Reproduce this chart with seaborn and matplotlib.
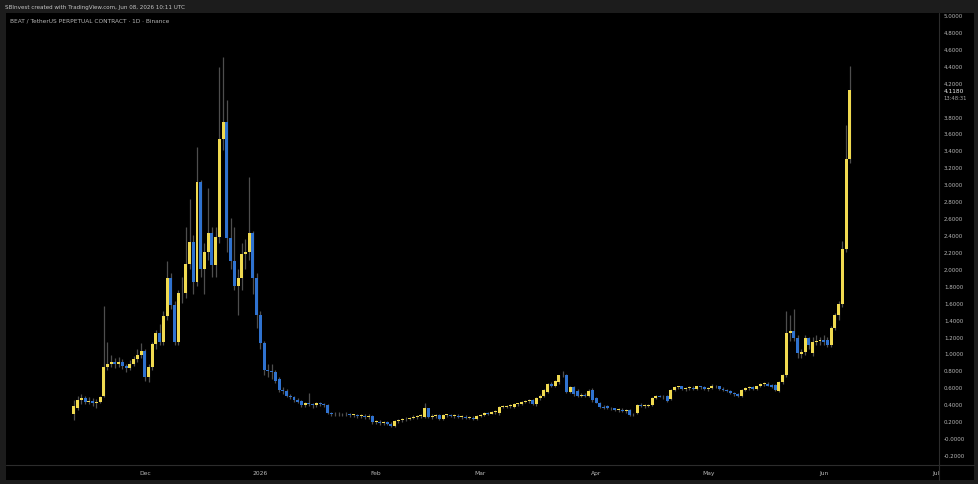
import numpy as np
import pandas as pd
import matplotlib
matplotlib.use("Agg")
import matplotlib.pyplot as plt
import matplotlib.dates as mdates
from matplotlib.patches import Rectangle
from matplotlib.lines import Line2D
from matplotlib.transforms import Bbox, TransformedBbox
import seaborn as sns

# ---------------- data (daily candles) ----------------
start_date = "2025-11-12"

opens = [
    0.28, 0.36, 0.45, 0.47, 0.43, 0.44, 0.42, 0.43, 0.50, 0.84,
    0.88, 0.90, 0.87, 0.90, 0.85, 0.83, 0.88, 0.93, 0.98, 1.03,
    0.72, 0.84, 1.11, 1.24, 1.14, 1.44, 1.89, 1.57, 1.14, 1.71,
    1.72, 2.06, 2.32, 1.85, 3.03, 2.00, 2.20, 2.42, 2.04, 2.38,
    3.54, 3.74, 2.36, 2.09, 1.80, 1.89, 2.18, 2.20, 2.42, 1.89,
    1.45, 1.12, 0.80, 0.79, 0.78, 0.70, 0.57, 0.56, 0.50, 0.48,
    0.45, 0.44, 0.39, 0.41, 0.40, 0.39, 0.41, 0.40, 0.39, 0.30,
    0.28, 0.29, 0.28, 0.29, 0.28, 0.27, 0.27, 0.26, 0.26, 0.25,
    0.26, 0.19, 0.19, 0.18, 0.19, 0.17, 0.14, 0.20, 0.21, 0.22,
    0.23, 0.24, 0.25, 0.26, 0.25, 0.35, 0.25, 0.26, 0.27, 0.22,
    0.27, 0.27, 0.26, 0.26, 0.25, 0.25, 0.24, 0.24, 0.22, 0.26,
    0.27, 0.30, 0.29, 0.31, 0.30, 0.37, 0.37, 0.38, 0.37, 0.40,
    0.40, 0.43, 0.44, 0.45, 0.40, 0.47, 0.50, 0.55, 0.64, 0.62,
    0.66, 0.74, 0.74, 0.55, 0.60, 0.56, 0.50, 0.51, 0.50, 0.57,
    0.47, 0.41, 0.37, 0.38, 0.35, 0.35, 0.33, 0.33, 0.32, 0.33,
    0.28, 0.30, 0.39, 0.38, 0.38, 0.39, 0.47, 0.50, 0.49, 0.50,
    0.46, 0.57, 0.60, 0.61, 0.58, 0.59, 0.59, 0.58, 0.61, 0.60,
    0.58, 0.59, 0.62, 0.61, 0.58, 0.57, 0.56, 0.53, 0.52, 0.50,
    0.57, 0.59, 0.60, 0.58, 0.61, 0.64, 0.64, 0.63, 0.63, 0.56,
    0.66, 0.74, 1.24, 1.26, 1.18, 0.99, 1.02, 1.18, 1.00, 1.14,
    1.15, 1.16, 1.16, 1.10, 1.30, 1.45, 1.59, 2.24, 3.30,
]
highs = [
    0.45, 0.50, 0.52, 0.50, 0.48, 0.47, 0.46, 0.50, 1.56, 1.14,
    0.98, 0.95, 0.96, 0.93, 0.88, 0.92, 0.97, 1.05, 1.12, 1.05,
    0.88, 1.13, 1.28, 1.35, 1.50, 2.09, 1.95, 1.62, 1.75, 1.90,
    2.50, 2.83, 2.40, 3.44, 3.05, 2.30, 2.95, 2.50, 2.50, 4.39,
    4.50, 4.00, 2.60, 2.50, 2.00, 2.30, 2.35, 3.09, 2.45, 1.95,
    1.50, 1.15, 0.88, 0.88, 0.80, 0.72, 0.60, 0.58, 0.52, 0.50,
    0.47, 0.45, 0.43, 0.53, 0.42, 0.43, 0.43, 0.42, 0.40, 0.31,
    0.31, 0.31, 0.30, 0.31, 0.30, 0.29, 0.29, 0.28, 0.28, 0.28,
    0.27, 0.21, 0.21, 0.20, 0.20, 0.19, 0.21, 0.22, 0.24, 0.25,
    0.25, 0.27, 0.27, 0.28, 0.41, 0.36, 0.28, 0.28, 0.28, 0.28,
    0.29, 0.29, 0.28, 0.28, 0.27, 0.27, 0.26, 0.26, 0.27, 0.28,
    0.31, 0.31, 0.32, 0.33, 0.38, 0.39, 0.39, 0.40, 0.41, 0.42,
    0.44, 0.45, 0.46, 0.46, 0.49, 0.52, 0.58, 0.65, 0.66, 0.69,
    0.75, 0.79, 0.76, 0.62, 0.62, 0.58, 0.53, 0.53, 0.58, 0.59,
    0.48, 0.43, 0.39, 0.39, 0.37, 0.36, 0.35, 0.35, 0.34, 0.34,
    0.30, 0.40, 0.41, 0.40, 0.40, 0.48, 0.51, 0.51, 0.51, 0.51,
    0.58, 0.62, 0.62, 0.62, 0.60, 0.61, 0.61, 0.62, 0.62, 0.61,
    0.60, 0.64, 0.63, 0.62, 0.60, 0.58, 0.57, 0.55, 0.53, 0.58,
    0.60, 0.61, 0.61, 0.62, 0.65, 0.66, 0.66, 0.64, 0.64, 0.67,
    0.76, 1.50, 1.45, 1.53, 1.22, 1.05, 1.22, 1.20, 1.20, 1.22,
    1.20, 1.22, 1.20, 1.33, 1.48, 1.62, 2.33, 3.70, 4.40,
]
lows = [
    0.21, 0.33, 0.40, 0.40, 0.40, 0.38, 0.36, 0.41, 0.48, 0.80,
    0.84, 0.83, 0.84, 0.82, 0.78, 0.80, 0.85, 0.90, 0.95, 0.68,
    0.66, 0.80, 1.05, 1.10, 1.10, 1.40, 1.52, 1.10, 1.10, 1.60,
    1.65, 2.00, 1.70, 1.80, 1.90, 1.70, 2.10, 1.90, 1.90, 2.30,
    3.40, 2.20, 2.00, 1.75, 1.45, 1.75, 2.00, 2.10, 1.70, 1.30,
    1.05, 0.75, 0.72, 0.70, 0.65, 0.55, 0.52, 0.48, 0.46, 0.43,
    0.41, 0.37, 0.37, 0.38, 0.36, 0.37, 0.38, 0.37, 0.28, 0.26,
    0.26, 0.26, 0.26, 0.26, 0.25, 0.25, 0.24, 0.24, 0.23, 0.23,
    0.17, 0.17, 0.16, 0.16, 0.15, 0.13, 0.13, 0.18, 0.19, 0.20,
    0.21, 0.22, 0.23, 0.24, 0.24, 0.24, 0.23, 0.24, 0.21, 0.21,
    0.25, 0.25, 0.24, 0.24, 0.23, 0.23, 0.22, 0.21, 0.21, 0.25,
    0.26, 0.27, 0.28, 0.29, 0.27, 0.35, 0.36, 0.36, 0.36, 0.38,
    0.39, 0.41, 0.42, 0.39, 0.38, 0.45, 0.48, 0.53, 0.60, 0.60,
    0.64, 0.72, 0.53, 0.53, 0.50, 0.48, 0.48, 0.48, 0.49, 0.43,
    0.41, 0.36, 0.34, 0.34, 0.33, 0.32, 0.31, 0.31, 0.30, 0.26,
    0.26, 0.29, 0.37, 0.36, 0.37, 0.38, 0.46, 0.48, 0.46, 0.43,
    0.45, 0.56, 0.58, 0.57, 0.56, 0.57, 0.57, 0.57, 0.58, 0.57,
    0.56, 0.58, 0.59, 0.57, 0.56, 0.54, 0.52, 0.50, 0.49, 0.49,
    0.56, 0.57, 0.57, 0.57, 0.60, 0.62, 0.61, 0.59, 0.56, 0.55,
    0.64, 0.72, 1.15, 1.15, 0.95, 0.95, 0.98, 1.05, 0.97, 1.10,
    1.10, 1.10, 1.08, 1.08, 1.28, 1.40, 1.55, 2.20, 3.25,
]
closes = [
    0.38, 0.45, 0.47, 0.43, 0.44, 0.42, 0.43, 0.48, 0.84, 0.88,
    0.90, 0.87, 0.90, 0.85, 0.83, 0.88, 0.93, 0.98, 1.03, 0.72,
    0.84, 1.11, 1.24, 1.14, 1.44, 1.89, 1.57, 1.14, 1.71, 1.72,
    2.06, 2.32, 1.85, 3.03, 2.00, 2.20, 2.42, 2.04, 2.38, 3.54,
    3.74, 2.36, 2.09, 1.80, 1.89, 2.18, 2.20, 2.42, 1.89, 1.45,
    1.12, 0.80, 0.79, 0.78, 0.68, 0.57, 0.56, 0.50, 0.48, 0.45,
    0.43, 0.39, 0.41, 0.40, 0.39, 0.41, 0.40, 0.39, 0.30, 0.28,
    0.29, 0.28, 0.29, 0.28, 0.27, 0.27, 0.26, 0.26, 0.25, 0.26,
    0.19, 0.19, 0.18, 0.19, 0.17, 0.14, 0.20, 0.21, 0.22, 0.23,
    0.24, 0.25, 0.26, 0.26, 0.35, 0.25, 0.26, 0.26, 0.22, 0.27,
    0.27, 0.26, 0.26, 0.25, 0.25, 0.24, 0.24, 0.23, 0.26, 0.27,
    0.30, 0.29, 0.31, 0.32, 0.37, 0.37, 0.38, 0.39, 0.40, 0.41,
    0.43, 0.44, 0.45, 0.40, 0.47, 0.50, 0.57, 0.64, 0.62, 0.68,
    0.74, 0.75, 0.55, 0.60, 0.52, 0.50, 0.51, 0.50, 0.56, 0.45,
    0.42, 0.37, 0.36, 0.35, 0.35, 0.33, 0.33, 0.32, 0.32, 0.27,
    0.29, 0.39, 0.38, 0.38, 0.39, 0.47, 0.50, 0.49, 0.48, 0.44,
    0.57, 0.60, 0.60, 0.58, 0.59, 0.59, 0.58, 0.61, 0.60, 0.58,
    0.59, 0.62, 0.61, 0.58, 0.57, 0.56, 0.53, 0.52, 0.50, 0.57,
    0.59, 0.60, 0.58, 0.61, 0.64, 0.64, 0.62, 0.60, 0.57, 0.66,
    0.74, 1.24, 1.26, 1.18, 1.00, 1.02, 1.18, 1.10, 1.14, 1.15,
    1.16, 1.14, 1.10, 1.30, 1.45, 1.59, 2.24, 3.30, 4.118,
]

month_ticks = ["2025-12-01", "2026-01-01", "2026-02-01", "2026-03-01",
               "2026-04-01", "2026-05-01", "2026-06-01", "2026-07-01"]
month_labels = ["Dec", "2026", "Feb", "Mar", "Apr", "May", "Jun", "Jul"]

price_ticks = [5.0, 4.8, 4.6, 4.4, 4.2, 3.8, 3.6, 3.4, 3.2, 3.0, 2.8, 2.6,
               2.4, 2.2, 2.0, 1.8, 1.6, 1.4, 1.2, 1.0, 0.8, 0.6, 0.4, 0.2,
               0.0, -0.2]
price_labels = ["5.0000", "4.8000", "4.6000", "4.4000", "4.2000", "3.8000",
                "3.6000", "3.4000", "3.2000", "3.0000", "2.8000", "2.6000",
                "2.4000", "2.2000", "2.0000", "1.8000", "1.6000", "1.4000",
                "1.2000", "1.0000", "0.8000", "0.6000", "0.4000", "0.2000",
                "-0.0000", "-0.2000"]
last_price_label = "4.1180"
countdown_label = "13:48:31"
header_text = "SBInvest created with TradingView.com, Jun 08, 2026 10:11 UTC"
symbol_text = "BEAT / TetherUS PERPETUAL CONTRACT · 1D · Binance"

# ---------------- styling ----------------
W, H = 979, 485
FRAME = "#1c1c1c"
UP = "#f0da50"
DOWN = "#2f72cf"
WICK = "#4e4e4e"
TXT = "#b8b8b8"
SEP = "#2c2c2c"

sns.set_theme(style="dark", rc={"axes.facecolor": "black",
                                "figure.facecolor": FRAME})
plt.rcParams["font.family"] = ["DejaVu Sans"]

df = pd.DataFrame({"open": opens, "high": highs, "low": lows, "close": closes})
df["date"] = pd.date_range(start_date, periods=len(df), freq="D")
df["x"] = mdates.date2num(df["date"])
df["up"] = df["close"] >= df["open"]
df["bottom"] = df[["open", "close"]].min(axis=1)
df["height"] = (df["close"] - df["open"]).abs().clip(lower=0.01)

fig = plt.figure(figsize=(W / 100, H / 100), dpi=100, facecolor=FRAME)

def fx(px):
    return px / W

def fy(py):
    return 1 - py / H

# black panel (chart + price scale + time scale)
fig.add_artist(Rectangle((fx(6), fy(481)), fx(974 - 6), (481 - 14) / H,
                         transform=fig.transFigure, facecolor="black",
                         edgecolor="none", zorder=-2))

ax = fig.add_axes([fx(6), fy(465), fx(939 - 6), (465 - 14) / H])
ax.set_facecolor("black")

# wicks and bodies
ax.vlines(df["x"], df["low"], df["high"], color=WICK, linewidth=0.9, zorder=1)
ax.bar(df["x"], df["height"], bottom=df["bottom"], width=0.8,
       color=np.where(df["up"], UP, DOWN), linewidth=0, zorder=2)

x0 = mdates.date2num(pd.Timestamp(start_date))
ax.set_xlim(x0 - 18.2, x0 + 231.9)
ax.set_ylim(-0.306, 5.024)

for s in ax.spines.values():
    s.set_visible(False)
ax.grid(False)

# time axis
ax.set_xticks(mdates.date2num(pd.to_datetime(month_ticks)))
ax.set_xticklabels(month_labels)
ax.tick_params(axis="x", length=0, pad=4.6, labelsize=4.3, labelcolor=TXT)
clip_box = TransformedBbox(Bbox([[fx(6), 0], [fx(939), 1]]), fig.transFigure)
for lab in ax.get_xticklabels():
    lab.set_clip_on(True)
    lab.set_clip_box(clip_box)

# price axis
ax.yaxis.tick_right()
ax.set_yticks(price_ticks)
ax.set_yticklabels(price_labels)
ax.tick_params(axis="y", length=0, pad=3.5, labelsize=4.0, labelcolor=TXT)

# last price label + countdown
ax.annotate(last_price_label, xy=(1, closes[-1]), xycoords=("axes fraction", "data"),
            xytext=(3.5, -0.8), textcoords="offset points", fontsize=4.2,
            color="#ececec", va="center", ha="left", annotation_clip=False)
ax.annotate(countdown_label, xy=(1, closes[-1]), xycoords=("axes fraction", "data"),
            xytext=(3.5, -5.8), textcoords="offset points", fontsize=3.8,
            color="#a8a8a8", va="center", ha="left", annotation_clip=False)

# separators
fig.add_artist(Line2D([fx(939.5), fx(939.5)], [fy(14), fy(481)],
                      transform=fig.transFigure, color=SEP, linewidth=0.8))
fig.add_artist(Line2D([fx(6), fx(974)], [fy(465.5), fy(465.5)],
                      transform=fig.transFigure, color=SEP, linewidth=0.8))

# header texts
fig.text(fx(5), fy(7), header_text, fontsize=4.1, color="#c4c4c4",
         va="center", ha="left")
fig.text(fx(10), fy(21), symbol_text, fontsize=4.2, color="#b4b4b4",
         va="center", ha="left")

fig.savefig("out.png", dpi=100, facecolor=FRAME)
